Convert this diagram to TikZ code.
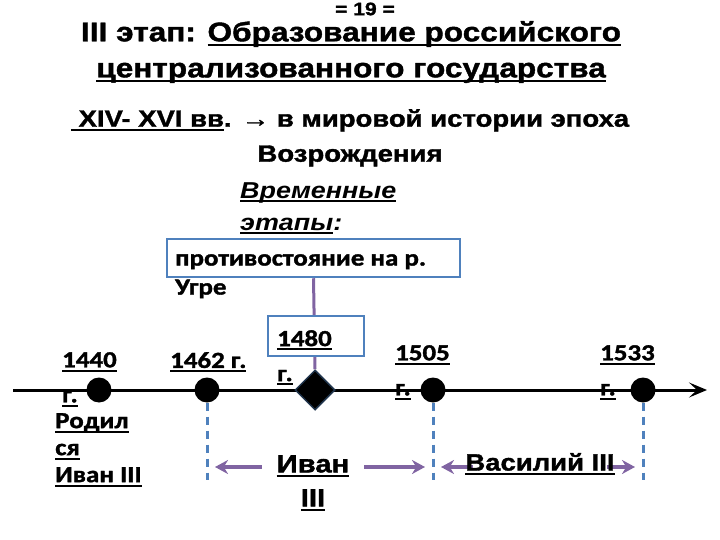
\documentclass[tikz,border=0pt]{standalone}
\usepackage{fontspec}
\setmainfont{Liberation Sans}[FakeStretch=1.17,BoldFeatures={FakeBold=1.5}]
\newfontfamily\calfont{Carlito}[FakeStretch=1.17,BoldFeatures={FakeBold=1.5}]
\newcommand\uln[1]{\leavevmode\setbox0\hbox{#1}\rlap{\vrule height -2.4pt depth 4.4pt width \wd0}\box0}
\usetikzlibrary{arrows.meta,backgrounds,shapes.geometric}
\definecolor{boxblue}{RGB}{79,129,189}
\definecolor{linepurple}{RGB}{128,100,162}
\begin{document}
\begin{tikzpicture}[x=1pt,y=-1pt,
    every node/.style={inner sep=0pt},
    dot/.style={circle,fill=black,minimum size=25pt},
    frame/.style={draw=boxblue,line width=2.5pt,fill=white},
    year/.style={font=\calfont\bfseries\fontsize{23}{35}\selectfont,align=left},
    guide/.style={draw=boxblue,line width=3pt,dash pattern=on 8pt off 6pt},
    reign/.style={draw=linepurple,line width=3.5pt,-{Stealth[length=13pt,width=14pt]},shorten >=8pt}]
  \useasboundingbox (0,0) rectangle (720,540);
  \node[font=\bfseries\fontsize{18}{20}\selectfont] (page) at (365,9) {= 19 =};
  \node[font=\bfseries\fontsize{27}{36}\selectfont,align=center,anchor=north] (title) at (351,21)
    {III этап: \uln{Образование российского}\\\uln{централизованного государства}};
  \node[font=\bfseries\fontsize{23.5}{35}\selectfont,align=center,anchor=north] (era) at (350,109)
    {\uln{~XIV- XVI вв}. → в мировой истории эпоха\\Возрождения};
  \node[font=\bfseries\itshape\fontsize{23}{32}\selectfont,align=left,anchor=north west] (stages) at (240,182)
    {\uln{Временные}\\\uln{этапы}:};
  \node[frame,minimum width=293pt,minimum height=38pt] (ugrabox) at (313.5,258) {};
  \node[year,anchor=north west,font=\calfont\bfseries\fontsize{23}{29}\selectfont] (ugra) at (175,254)
    {противостояние на р.\\Угре};
  \node[frame,minimum width=96pt,minimum height=40pt] (yearbox) at (316,336) {};
  \node[diamond,fill=black,draw=boxblue!40!black,line width=1.5pt,minimum size=40pt] (d1480) at (315,390) {};
  \node[dot] (g1440) at (99,390) {};
  \node[dot] (g1462) at (207,390) {};
  \node[dot] (g1505) at (433,390) {};
  \node[dot] (g1533) at (643,390) {};
  \coordinate (tstart) at (13,390);
  \coordinate (tend) at (707,390);
  \coordinate (row) at (0,467);
  \node[year,anchor=north west] (y1440) at (62,352) {\uln{1440}\\\uln{г.}};
  \node[year,anchor=north west] (y1462) at (170,352) {\uln{1462 г.}};
  \node[year,anchor=north west] (y1480) at (277,330) {\uln{1480}\\\uln{г.}};
  \node[year,anchor=north west] (y1505) at (395,345) {\uln{1505}\\\uln{г.}};
  \node[year,anchor=north west] (y1533) at (600,345) {\uln{1533}\\\uln{г.}};
  \node[year,anchor=north west,font=\calfont\bfseries\fontsize{23}{27}\selectfont] (born) at (55,413)
    {\uln{Родил}\\\uln{ся}\\\uln{Иван III}};
  \node[font=\bfseries\fontsize{25}{34}\selectfont,align=center,anchor=north] (ivan) at (313,455)
    {\uln{Иван}\\\uln{III}};
  \node[font=\bfseries\fontsize{23.5}{34}\selectfont] (vas) at (540,464) {\uln{Василий III}};
  \begin{pgfonlayer}{background}
    \draw[line width=3pt,-{Stealth[length=18pt,width=15pt,inset=8pt]}] (tstart) -- (tend);
    \draw[linepurple,line width=3pt] (ugrabox.south) -- (d1480.north);
    \draw[guide] (g1462.south) -- (g1462 |- 0,480);
    \draw[guide] (g1505.south) -- (g1505 |- 0,480);
    \draw[guide] (g1533.south) -- (g1533 |- 0,480);
    \draw[reign] ([xshift=-15pt]ivan.west |- row) -- (g1462 |- row);
    \draw[reign] ([xshift=15pt]ivan.east |- row) -- (g1505 |- row);
    \draw[reign] ([xshift=8pt]vas.west |- row) -- (g1505 |- row);
    \draw[reign] ([xshift=-8pt]vas.east |- row) -- (g1533 |- row);
  \end{pgfonlayer}
\end{tikzpicture}
\end{document}
